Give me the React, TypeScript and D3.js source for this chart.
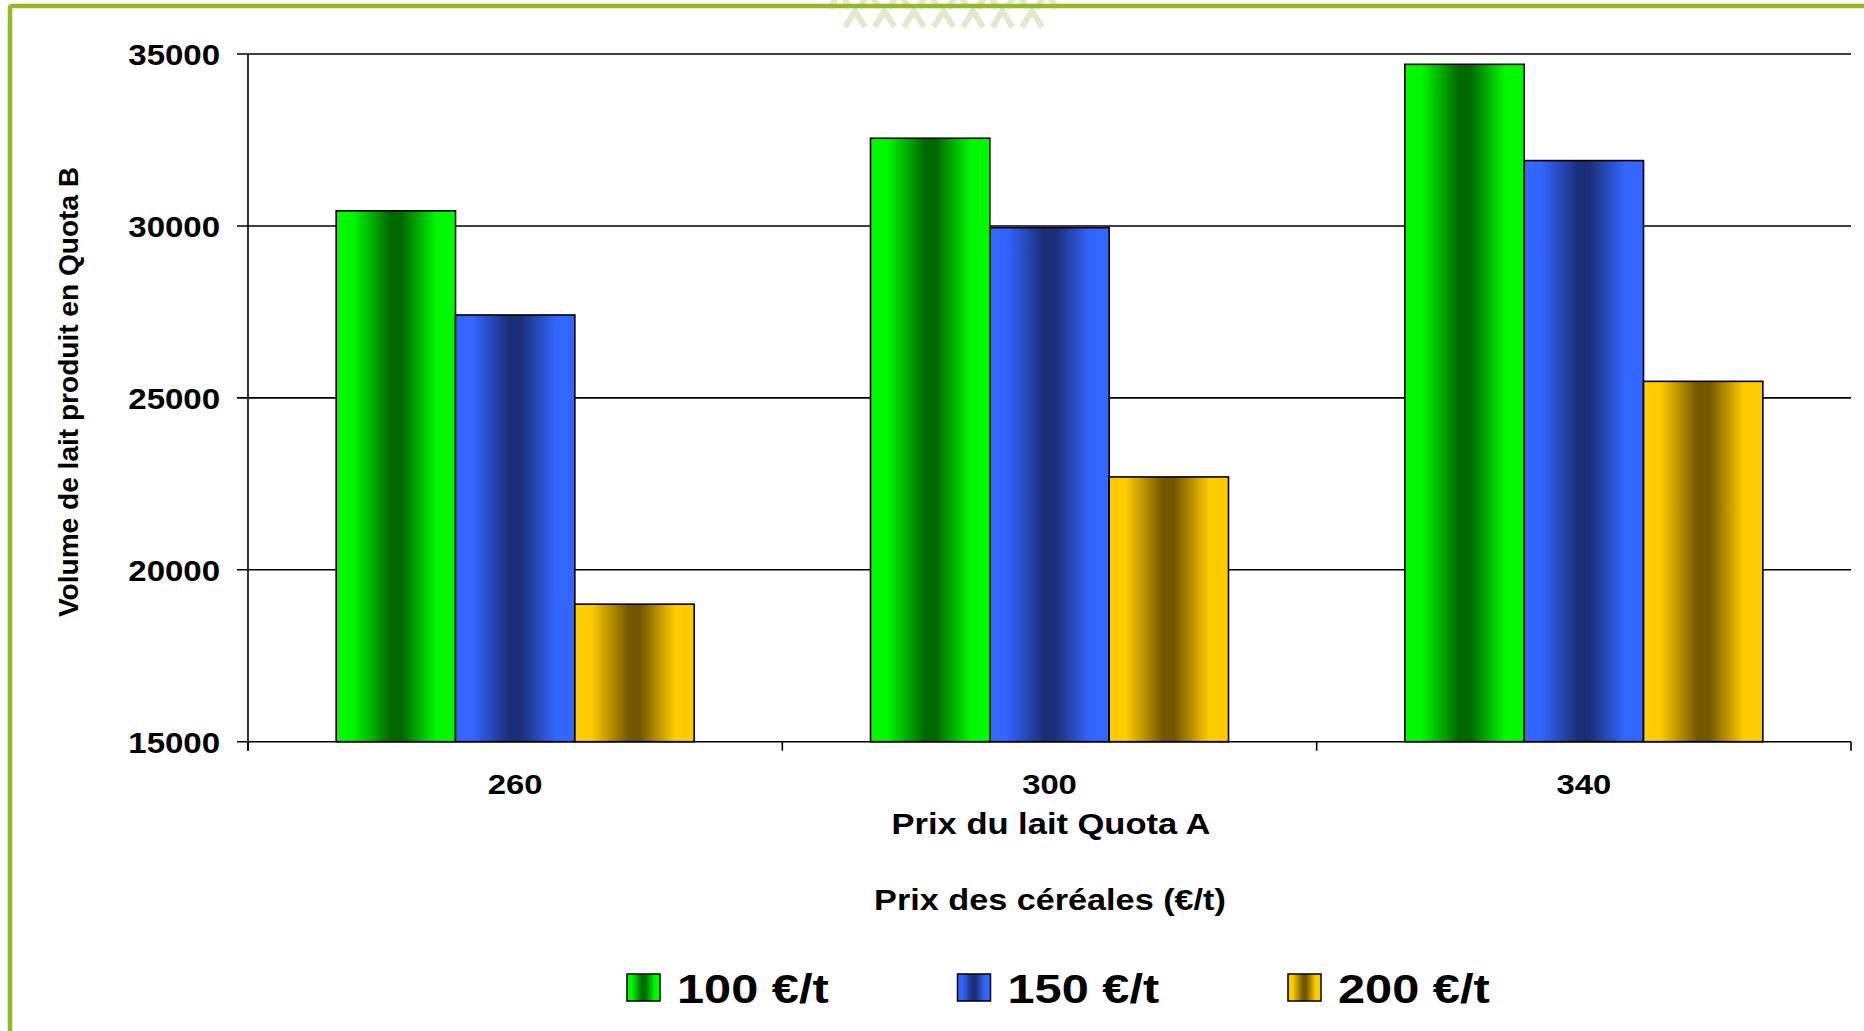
import React from "react";
import * as d3 from "d3";

const categories = ["260", "300", "340"];
const seriesNames = ["100 €/t", "150 €/t", "200 €/t"];
const values100 = [30440, 32550, 34700];
const values150 = [27410, 29950, 31900];
const values200 = [19000, 22700, 25480];
const yTicks = [15000, 20000, 25000, 30000, 35000];
const yTitle = "Volume de lait produit en Quota B";
const xTitle1 = "Prix du lait Quota A";
const xTitle2 = "Prix des céréales (€/t)";

const seriesValues = [values100, values150, values200];
const seriesColors = [
  { edge: "#00f800", dark: "#006a00" },
  { edge: "#3366ff", dark: "#1b2e78" },
  { edge: "#ffcc00", dark: "#735800" },
];

const W = 1864;
const H = 1031;
const FONT = "'Liberation Sans', Arial, Helvetica, sans-serif";

export default function App() {
  const left = 248;
  const right = 1851;
  const top = 54;
  const bottom = 741.7;

  const y = d3.scaleLinear().domain([15000, 35000]).range([bottom, top]);
  const x0 = d3.scaleBand<string>().domain(categories).range([left, right]).padding(0);
  const bw = x0.bandwidth();
  const gap = bw * 0.165;
  const x1 = d3.scaleBand<string>().domain(seriesNames).range([gap, bw - gap]).padding(0);

  const boundaries = [...categories.map((c) => x0(c) as number), right];

  // decorative chevrons at top (background emblem, partly hidden)
  const chevrons: { cx: number; cy: number }[] = [];
  const rows = [
    { cy: -8, start: 840, n: 8 },
    { cy: 11, start: 855, n: 7 },
  ];
  rows.forEach((r) => {
    for (let i = 0; i < r.n; i++) chevrons.push({ cx: r.start + i * 29.5, cy: r.cy });
  });

  return (
    <svg
      width={W}
      height={H}
      style={{ position: "fixed", left: 0, top: 0, display: "block", background: "#fff" }}
      fontFamily={FONT}
    >
      <defs>
        {seriesColors.map((c, i) => (
          <linearGradient id={`g${i}`} key={i} x1="0" x2="1" y1="0" y2="0">
            <stop offset="0" stopColor={c.edge} />
            <stop offset="0.14" stopColor={c.edge} />
            <stop offset="0.45" stopColor={c.dark} />
            <stop offset="0.55" stopColor={c.dark} />
            <stop offset="0.84" stopColor={c.edge} />
            <stop offset="1" stopColor={c.edge} />
          </linearGradient>
        ))}
      </defs>
      <rect x={0} y={0} width={W} height={H} fill="#fff" />

      {/* decoration */}
      <g stroke="#e2e9cd" strokeWidth={6} fill="none" strokeLinecap="butt">
        {chevrons.map((c, i) => (
          <polyline key={i} points={`${c.cx - 10},${c.cy + 16} ${c.cx},${c.cy} ${c.cx + 10},${c.cy + 16}`} />
        ))}
      </g>

      {/* border */}
      <path d={`M10,${H} L10,8 Q10,6 12,6 L${W},6`} fill="none" stroke="#93b926" strokeWidth={4.5} />

      {/* gridlines */}
      <g stroke="#000" strokeWidth={1.6}>
        {yTicks.map((t) => (
          <line key={t} x1={237} x2={right} y1={y(t)} y2={y(t)} />
        ))}
        <line x1={left} x2={left} y1={top} y2={bottom + 9} />
        {boundaries.map((b, i) => (
          <line key={i} x1={b} x2={b} y1={bottom} y2={bottom + 9} />
        ))}
      </g>

      {/* bars */}
      {categories.map((c, ci) => (
        <g key={c} transform={`translate(${x0(c)},0)`}>
          {seriesNames.map((s, si) => {
            const v = seriesValues[si][ci];
            return (
              <rect
                key={s}
                x={x1(s)}
                y={y(v)}
                width={x1.bandwidth()}
                height={bottom - y(v)}
                fill={`url(#g${si})`}
                stroke="#000"
                strokeWidth={1.6}
              />
            );
          })}
        </g>
      ))}

      {/* y tick labels */}
      {yTicks.map((t) => (
        <text
          key={t}
          transform={`translate(220,${y(t) + 11}) scale(1.1,1)`}
          textAnchor="end"
          fontSize={30}
          fontWeight="bold"
        >
          {t}
        </text>
      ))}

      {/* x tick labels */}
      {categories.map((c) => (
        <text
          key={c}
          transform={`translate(${(x0(c) as number) + bw / 2},794) scale(1.15,1)`}
          textAnchor="middle"
          fontSize={28.5}
          fontWeight="bold"
        >
          {c}
        </text>
      ))}

      {/* y title */}
      <text
        transform={`translate(78,392) rotate(-90) scale(1.04,1)`}
        textAnchor="middle"
        fontSize={27}
        fontWeight="bold"
      >
        {yTitle}
      </text>

      {/* x titles */}
      <text transform={`translate(1051,834) scale(1.19,1)`} textAnchor="middle" fontSize={29} fontWeight="bold">
        {xTitle1}
      </text>
      <text transform={`translate(1050,910) scale(1.18,1)`} textAnchor="middle" fontSize={29} fontWeight="bold">
        {xTitle2}
      </text>

      {/* legend */}
      {seriesNames.map((s, i) => {
        const lx = 627 + i * 330.5;
        return (
          <g key={s}>
            <rect x={lx} y={974} width={33} height={27} fill={`url(#g${i})`} stroke="#000" strokeWidth={1.5} />
            <text transform={`translate(${lx + 50},1002.5) scale(1.174,1)`} fontSize={41.5} fontWeight="bold">
              {s}
            </text>
          </g>
        );
      })}
    </svg>
  );
}
